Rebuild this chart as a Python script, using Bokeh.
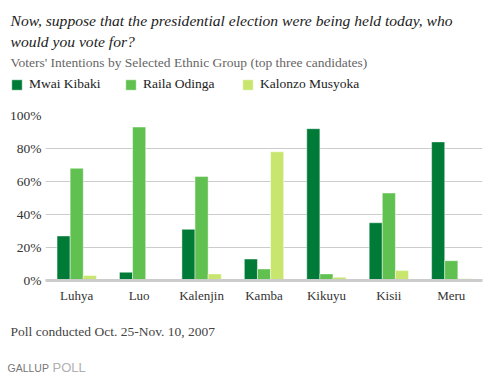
from bokeh.plotting import figure
from bokeh.layouts import column
from bokeh.models import FactorRange, Range1d, Label, ColumnDataSource, Legend, LegendItem
from bokeh.transform import dodge
from bokeh.embed import file_html
from bokeh.resources import INLINE

groups = ["Luhya", "Luo", "Kalenjin", "Kamba", "Kikuyu", "Kisii", "Meru"]
kibaki = [27, 5, 31, 13, 92, 35, 84]
odinga = [68, 93, 63, 7, 4, 53, 12]
musyoka = [3, 0, 4, 78, 2, 6, 1]
series = ["Mwai Kibaki", "Raila Odinga", "Kalonzo Musyoka"]
colors = ["#007A37", "#60C050", "#C8E66E"]
yticks = [0, 20, 40, 60, 80, 100]
ytick_labels = ["0%", "20%", "40%", "60%", "80%", "100%"]

title1 = "Now, suppose that the presidential election were being held today, who"
title2 = "would you vote for?"
subtitle = "Voters' Intentions by Selected Ethnic Group (top three candidates)"
footnote = "Poll conducted Oct. 25-Nov. 10, 2007"
brand1, brand2 = "GALLUP", "POLL"

SERIF = "Liberation Serif"
W = 489
H_HEAD, H_MAIN, H_FOOT = 105, 200, 69
BAR_LINE = dict(line_color="white", line_alpha=0.45, line_width=1)
cols = ["kibaki", "odinga", "musyoka"]

src = ColumnDataSource(dict(group=groups, kibaki=kibaki, odinga=odinga, musyoka=musyoka))


def blank(height, x_range):
    f = figure(width=W, height=height, x_range=x_range, y_range=Range1d(0, height),
               x_axis_type=None, y_axis_type=None, output_backend="svg", toolbar_location=None,
               min_border=0, min_border_left=0, min_border_right=0,
               min_border_top=0, min_border_bottom=0, frame_align=False)
    f.outline_line_color = None
    f.grid.visible = False
    return f


def lab(f, height, text, x, baseline_y, **kw):
    f.add_layout(Label(x=x, y=height - baseline_y, x_units="screen", y_units="screen",
                       text=text, text_baseline="alphabetic", **kw))


# ---------- header: titles + legend ----------
head = blank(H_HEAD, FactorRange(*groups))
lab(head, H_HEAD, title1, 10, 20, text_font=SERIF, text_font_style="italic",
    text_font_size="15.6px", text_color="#222222")
lab(head, H_HEAD, title2, 10, 41, text_font=SERIF, text_font_style="italic",
    text_font_size="15.6px", text_color="#222222")
lab(head, H_HEAD, subtitle, 10, 62, text_font=SERIF, text_font_size="13.5px",
    text_color="#666666")

leg_x = [10, 124, 241]
for name, col, c, lx in zip(series, cols, colors, leg_x):
    swatch = head.vbar(x="group", top=col, width=0.2, source=src, fill_color=c,
                       visible=False, **BAR_LINE)
    lg = Legend(items=[LegendItem(label=name, renderers=[swatch])],
                location=(lx, H_HEAD - 92), orientation="horizontal",
                glyph_width=13, glyph_height=13, label_standoff=6,
                padding=0, margin=0, border_line_color=None, background_fill_alpha=0,
                inactive_fill_alpha=0, click_policy="none",
                label_text_font=SERIF, label_text_font_size="13.5px",
                label_text_color="#222222", label_height=13)
    head.add_layout(lg, "center")

# ---------- main chart ----------
p = figure(width=W, height=H_MAIN, x_range=FactorRange(*groups, range_padding=0),
           y_range=Range1d(0, 100), output_backend="svg", toolbar_location=None,
           min_border_left=45, min_border_right=7, min_border_top=10, min_border_bottom=25,
           frame_align=False)
p.outline_line_color = None
p.xgrid.grid_line_color = None
p.ygrid.grid_line_color = "#cccccc"
p.ygrid.ticker = yticks

p.yaxis.ticker = yticks
p.yaxis.major_label_overrides = {t: l for t, l in zip(yticks, ytick_labels)}
p.yaxis.axis_line_color = None
p.yaxis.major_tick_line_color = None
p.yaxis.major_tick_out = 0
p.yaxis.major_tick_in = 0
p.yaxis.minor_tick_line_color = None
p.yaxis.major_label_standoff = 4
p.yaxis.major_label_text_font = SERIF
p.yaxis.major_label_text_font_size = "13.5px"
p.yaxis.major_label_text_color = "#333333"

p.xaxis.axis_line_color = "#cccccc"
p.xaxis.axis_line_width = 3
p.xaxis.major_tick_line_color = None
p.xaxis.major_tick_out = 0
p.xaxis.major_tick_in = 0
p.xaxis.minor_tick_line_color = None
p.xaxis.major_label_standoff = 7
p.xaxis.major_label_text_font = SERIF
p.xaxis.major_label_text_font_size = "13px"
p.xaxis.major_label_text_color = "#333333"

w = 0.21
for col, off, c in zip(cols, [-w, 0, w], colors):
    p.vbar(x=dodge("group", off, range=p.x_range), top=col, width=w, source=src,
           fill_color=c, **BAR_LINE)

# ---------- footer ----------
foot = blank(H_FOOT, Range1d(0, W))
lab(foot, H_FOOT, footnote, 10, 331 - 305, text_font=SERIF, text_font_size="13.5px",
    text_color="#444444")
lab(foot, H_FOOT, brand1, 7, 367 - 305, text_font="Liberation Sans",
    text_font_size="10.5px", text_color="#777777")
lab(foot, H_FOOT, brand2, 52, 367 - 305, text_font="Liberation Sans",
    text_font_size="13px", text_color="#b0b0b0")

layout = column(head, p, foot, spacing=0)
open("out.html", "w").write(file_html(layout, INLINE))
